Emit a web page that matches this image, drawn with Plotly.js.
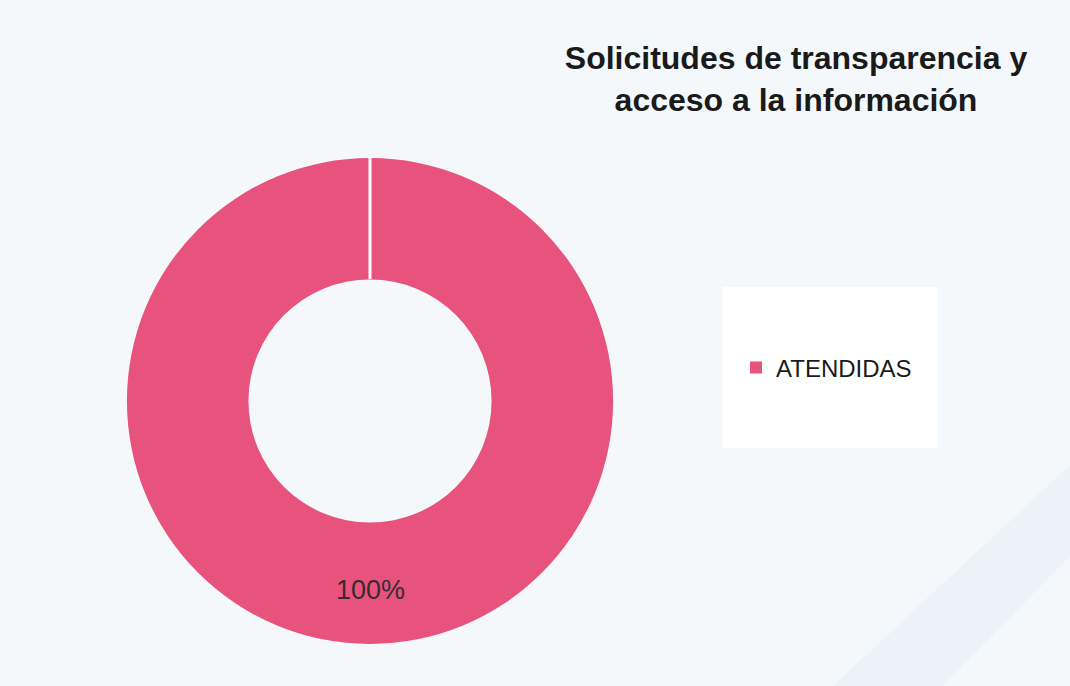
<!DOCTYPE html>
<html><head><meta charset="utf-8">
<script src="https://cdn.plot.ly/plotly-3.0.1.min.js"></script>
<style>html,body{margin:0;padding:0;background:#f4f8fb;}#chart{width:1070px;height:686px;}</style>
</head><body><div id="chart"></div>
<script>
const categories = ["ATENDIDAS"];
const values = [100];
const colors = ["#e8537e"];
const chartTitle = "Solicitudes de transparencia y<br>acceso a la información";

const W = 1070, H = 686;
const px = (x) => x / W, py = (y) => 1 - y / H;
const total = values.reduce((a, b) => a + b, 0);
const FONT = "Liberation Sans";

const trace = {
  type: "pie",
  labels: categories,
  values: values,
  hole: 0.5,
  sort: false,
  direction: "clockwise",
  rotation: 0,
  marker: { colors: colors, line: { color: "#ffffff", width: 0 } },
  textinfo: "none",
  hoverinfo: "label+percent",
  domain: { x: [px(127), px(613)], y: [py(644), py(158)] },
  showlegend: true
};

const layout = {
  width: W, height: H,
  margin: { l: 0, r: 0, t: 0, b: 0 },
  paper_bgcolor: "#f4f8fb",
  plot_bgcolor: "#f4f8fb",
  font: { family: FONT, color: "#1a1a1a" },
  title: {
    text: "<b>" + chartTitle + "</b>",
    xref: "paper", yref: "paper",
    x: px(796), xanchor: "center",
    y: py(69), yanchor: "middle",
    font: { size: 32, color: "#1a1a1a", family: FONT }
  },
  legend: {
    x: px(736), xanchor: "left",
    y: py(368), yanchor: "middle",
    bgcolor: "rgba(0,0,0,0)",
    font: { size: 24, color: "#1a1a1a", family: FONT },
    itemwidth: 30
  },
  shapes: [
    { type: "path", xref: "paper", yref: "paper",
      path: `M ${px(833)} ${py(686)} L ${px(1070)} ${py(465)} L ${px(1070)} ${py(556)} L ${px(943)} ${py(686)} Z`,
      fillcolor: "#edf2f8", line: { width: 0 }, layer: "below" },
    { type: "rect", xref: "paper", yref: "paper",
      x0: px(723), x1: px(938), y0: py(448), y1: py(287),
      fillcolor: "#ffffff", line: { width: 0 }, layer: "below" },
    { type: "line", xref: "paper", yref: "paper",
      x0: px(370), x1: px(370), y0: py(279), y1: py(155),
      line: { color: "#ffffff", width: 3 }, layer: "above" }
  ],
  annotations: values.map((v) => ({
    text: Math.round(v / total * 100) + "%",
    xref: "paper", yref: "paper",
    x: px(370), y: py(590), xanchor: "center", yanchor: "middle",
    showarrow: false,
    font: { size: 27, color: "#3a2a30", family: FONT }
  }))
};

Plotly.newPlot("chart", [trace], layout, { displayModeBar: false, staticPlot: true });
</script></body></html>
